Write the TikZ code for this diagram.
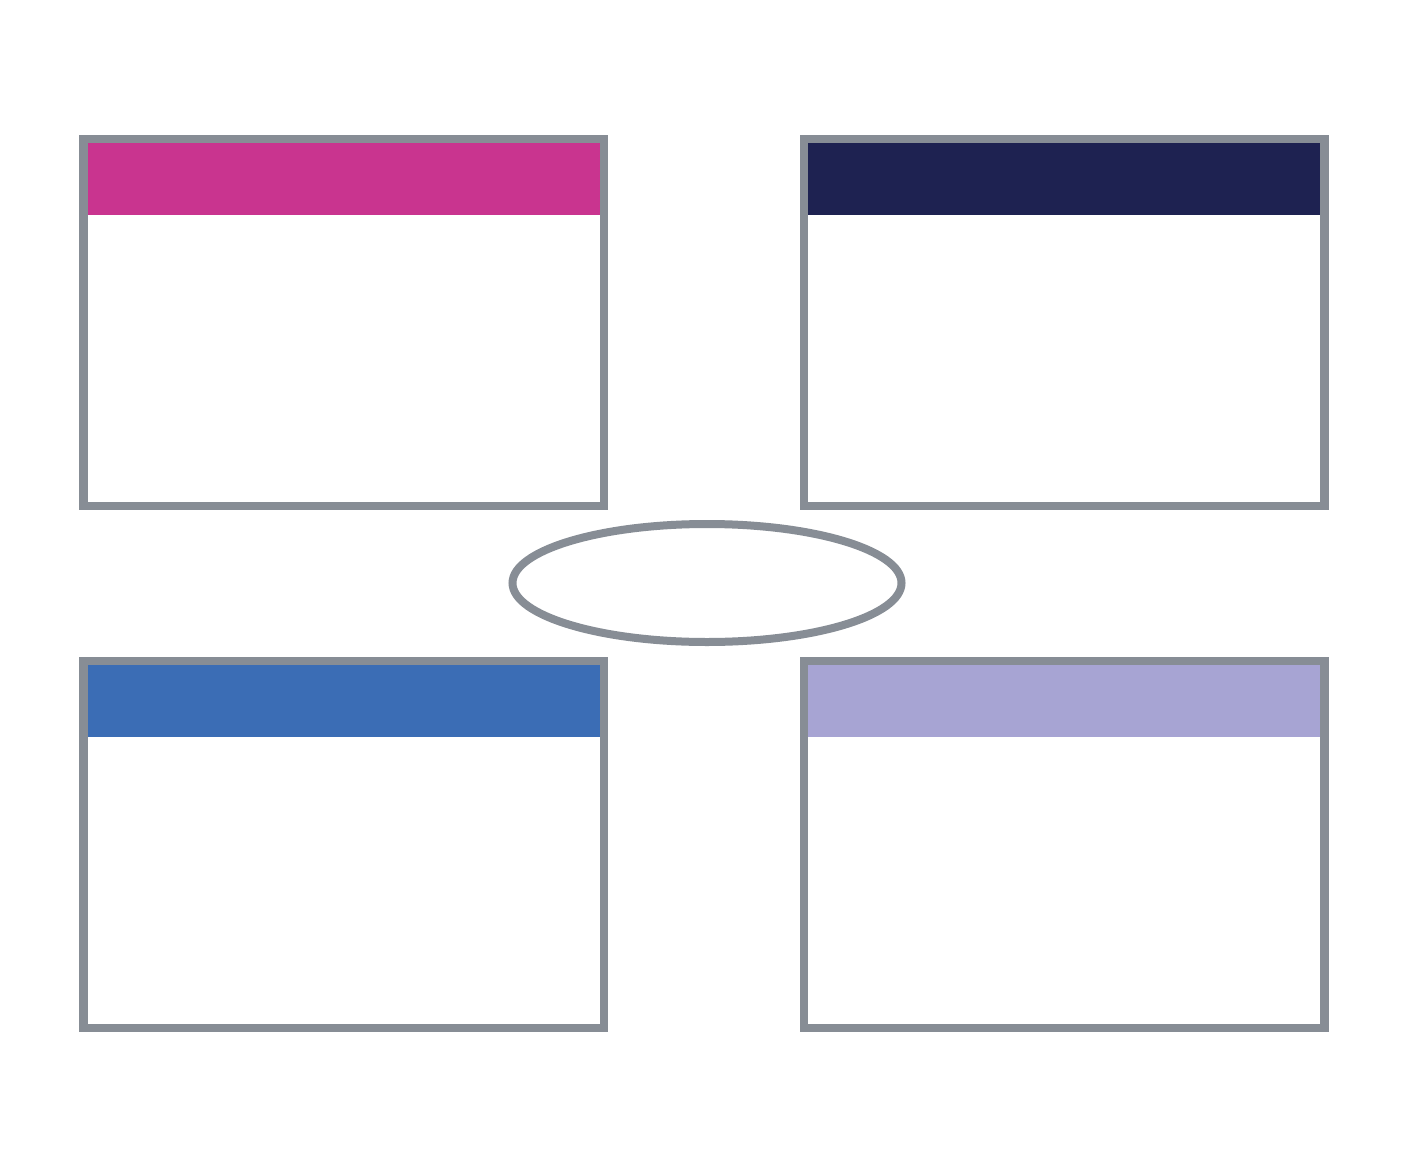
\documentclass[tikz,border=0pt]{standalone}
\definecolor{frame}{HTML}{878D95}
\definecolor{hmag}{HTML}{C9348F}
\definecolor{hnavy}{HTML}{1E2251}
\definecolor{hblue}{HTML}{3B6DB5}
\definecolor{hlav}{HTML}{A7A4D3}
\begin{document}
\begin{tikzpicture}[x=1pt,y=-1pt,
  boxframe/.style={draw=frame,line width=8.5pt},
  ovalframe/.style={draw=frame,line width=8pt,ellipse}]
\useasboundingbox (0,0) rectangle (1408,1167);
\fill[white] (0,0) rectangle (1408,1167);
% headers
\fill[hmag]  (83.3,139) rectangle (604,215.3);
\fill[hnavy] (803.8,139) rectangle (1324.5,215.3);
\fill[hblue] (83.3,661) rectangle (604,737.3);
\fill[hlav]  (803.8,661) rectangle (1324.5,737.3);
% frames
\node[boxframe,inner sep=0pt,minimum width=520.7pt,minimum height=367pt] (tl) at (343.65,322.5) {};
\node[boxframe,inner sep=0pt,minimum width=520.7pt,minimum height=367pt] (tr) at (1064.15,322.5) {};
\node[boxframe,inner sep=0pt,minimum width=520.7pt,minimum height=366.8pt] (bl) at (343.65,844.4) {};
\node[boxframe,inner sep=0pt,minimum width=520.7pt,minimum height=366.8pt] (br) at (1064.15,844.4) {};
\draw[frame,line width=8pt] (707,583) ellipse [x radius=194.5pt, y radius=59pt];
\end{tikzpicture}
\end{document}
